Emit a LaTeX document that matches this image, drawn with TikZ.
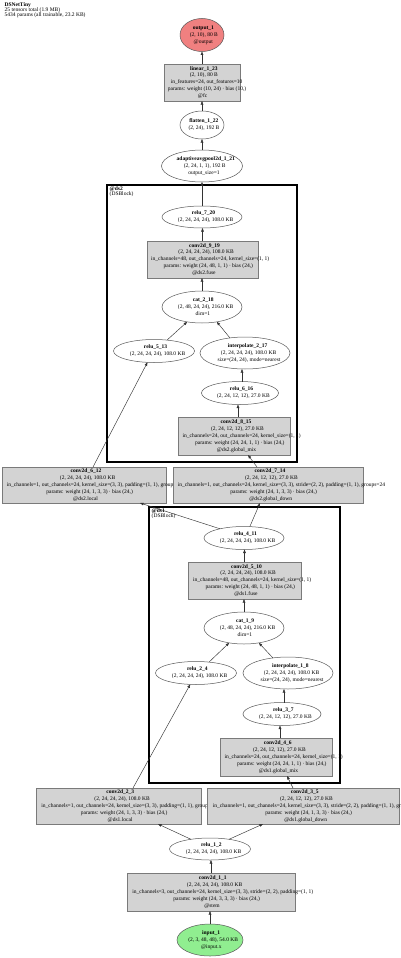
\documentclass[tikz,border=0pt]{standalone}
\usepackage{fontspec}
\setmainfont{Liberation Serif}
\usetikzlibrary{shapes.geometric,arrows.meta}
\definecolor{gvfill}{HTML}{D3D3D3}
\definecolor{gvline}{HTML}{7A7A7A}
\definecolor{gvred}{HTML}{F08080}
\definecolor{gvgreen}{HTML}{90EE90}
\newcommand\gvl[1]{\setbox0=\hbox{#1}\hbox to 0pt{\kern-0.435\wd0\box0\hss}}
\newcommand\gvfont{\fontsize{5.5}{6.9}\selectfont}
\newcommand\gvsmall{\fontsize{5.5}{5.3}\selectfont}
\tikzset{
  opbox/.style={rectangle, draw=gvline, fill=gvfill, line width=0.5pt, inner sep=0pt, outer sep=0pt, font=\gvfont, align=center},
  opell/.style={ellipse, draw=black!65, fill=white, line width=0.5pt, inner sep=0pt, outer sep=0pt, font=\gvfont, align=center},
  clusterbox/.style={draw=black, line width=1.6pt},
  edge/.style={-{Triangle[length=3.5pt,width=2.6pt]}, line width=0.45pt, draw=black!80},
  lbl/.style={anchor=north west, inner sep=0pt, font=\gvsmall, align=left}
}
\begin{document}
\begin{tikzpicture}[x=1pt,y=-1pt]
\useasboundingbox (0,0) rectangle (400,958);
\fill[white] (0,0) rectangle (400,958);

% title
\node[lbl] (title) at (4.5,2) {\textbf{DSNetTiny}\\25 tensors total (1.9 MB)\\5434 params (all trainable, 23.2 KB)};

% clusters
\draw[clusterbox] (107,185) rectangle (297,462);
\node[lbl] (ds2lbl) at (109.5,186.5) {\textbf{@ds2}\\(DSBlock)};
\draw[clusterbox] (149,507) rectangle (340,783);
\node[lbl] (ds1lbl) at (151.5,508.5) {\textbf{@ds1}\\(DSBlock)};

% nodes (top to bottom)
\node[opell, fill=gvred, minimum width=44pt, minimum height=33pt] (output) at (202,35)
  {\gvl{\bfseries output\_1}\\\gvl{(2, 10), 80 B}\\\gvl{@output}};
\node[opbox, minimum width=76pt, minimum height=37pt] (linear) at (202,82.5)
  {\gvl{\bfseries linear\_1\_23}\\\gvl{(2, 10), 80 B}\\\gvl{in\_features=24, out\_features=10}\\\gvl{params: weight (10, 24) · bias (10,)}\\\gvl{@fc}};
\node[opell, minimum width=44pt, minimum height=28pt] (flatten) at (202,125)
  {\gvl{\bfseries flatten\_1\_22}\\\gvl{(2, 24), 192 B}};
\node[opell, minimum width=81pt, minimum height=32pt] (avgpool) at (202,166)
  {\gvl{\bfseries adaptiveavgpool2d\_1\_21}\\\gvl{(2, 24, 1, 1), 192 B}\\\gvl{output\_size=1}};

\node[opell, minimum width=80pt, minimum height=22pt] (relu7) at (202,217)
  {\gvl{\bfseries relu\_7\_20}\\\gvl{(2, 24, 24, 24), 108.0 KB}};
\node[opbox, minimum width=111pt, minimum height=37pt] (conv9) at (202.5,259.5)
  {\gvl{\bfseries conv2d\_9\_19}\\\gvl{(2, 24, 24, 24), 108.0 KB}\\\gvl{in\_channels=48, out\_channels=24, kernel\_size=(1, 1)}\\\gvl{params: weight (24, 48, 1, 1) · bias (24,)}\\\gvl{@ds2.fuse}};
\node[opell, minimum width=80pt, minimum height=32pt] (cat2) at (202,307)
  {\gvl{\bfseries cat\_2\_18}\\\gvl{(2, 48, 24, 24), 216.0 KB}\\\gvl{dim=1}};
\node[opell, minimum width=81pt, minimum height=23pt] (relu5) at (154,351)
  {\gvl{\bfseries relu\_5\_13}\\\gvl{(2, 24, 24, 24), 108.0 KB}};
\node[opell, minimum width=90pt, minimum height=32pt] (interp2) at (245,353)
  {\gvl{\bfseries interpolate\_2\_17}\\\gvl{(2, 24, 24, 24), 108.0 KB}\\\gvl{size=(24, 24), mode=nearest}};
\node[opell, minimum width=77pt, minimum height=23pt] (relu6) at (240,393)
  {\gvl{\bfseries relu\_6\_16}\\\gvl{(2, 24, 12, 12), 27.0 KB}};
\node[opbox, minimum width=112pt, minimum height=38pt] (conv8) at (234,436)
  {\gvl{\bfseries conv2d\_8\_15}\\\gvl{(2, 24, 12, 12), 27.0 KB}\\\gvl{in\_channels=24, out\_channels=24, kernel\_size=(1, 1)}\\\gvl{params: weight (24, 24, 1, 1) · bias (24,)}\\\gvl{@ds2.global\_mix}};

\node[opbox, minimum width=164pt, minimum height=36pt] (conv6) at (84,485)
  {\gvl{\bfseries conv2d\_6\_12}\\\gvl{(2, 24, 24, 24), 108.0 KB}\\\gvl{in\_channels=1, out\_channels=24, kernel\_size=(3, 3), padding=(1, 1), groups=24}\\\gvl{params: weight (24, 1, 3, 3) · bias (24,)}\\\gvl{@ds2.local}};
\node[opbox, minimum width=190pt, minimum height=36pt] (conv7) at (268,485)
  {\gvl{\bfseries conv2d\_7\_14}\\\gvl{(2, 24, 12, 12), 27.0 KB}\\\gvl{in\_channels=1, out\_channels=24, kernel\_size=(3, 3), stride=(2, 2), padding=(1, 1), groups=24}\\\gvl{params: weight (24, 1, 3, 3) · bias (24,)}\\\gvl{@ds2.global\_down}};

\node[opell, minimum width=80pt, minimum height=23pt] (relu4) at (244,538)
  {\gvl{\bfseries relu\_4\_11}\\\gvl{(2, 24, 24, 24), 108.0 KB}};
\node[opbox, minimum width=113pt, minimum height=37pt] (conv5) at (244.5,580.5)
  {\gvl{\bfseries conv2d\_5\_10}\\\gvl{(2, 24, 24, 24), 108.0 KB}\\\gvl{in\_channels=48, out\_channels=24, kernel\_size=(1, 1)}\\\gvl{params: weight (24, 48, 1, 1) · bias (24,)}\\\gvl{@ds1.fuse}};
\node[opell, minimum width=80pt, minimum height=32pt] (cat1) at (244,628)
  {\gvl{\bfseries cat\_1\_9}\\\gvl{(2, 48, 24, 24), 216.0 KB}\\\gvl{dim=1}};
\node[opell, minimum width=81pt, minimum height=23pt] (relu2) at (196,673)
  {\gvl{\bfseries relu\_2\_4}\\\gvl{(2, 24, 24, 24), 108.0 KB}};
\node[opell, minimum width=90pt, minimum height=32pt] (interp1) at (288,673)
  {\gvl{\bfseries interpolate\_1\_8}\\\gvl{(2, 24, 24, 24), 108.0 KB}\\\gvl{size=(24, 24), mode=nearest}};
\node[opell, minimum width=78pt, minimum height=23pt] (relu3) at (282,714)
  {\gvl{\bfseries relu\_3\_7}\\\gvl{(2, 24, 12, 12), 27.0 KB}};
\node[opbox, minimum width=112pt, minimum height=38pt] (conv4) at (276,757)
  {\gvl{\bfseries conv2d\_4\_6}\\\gvl{(2, 24, 12, 12), 27.0 KB}\\\gvl{in\_channels=24, out\_channels=24, kernel\_size=(1, 1)}\\\gvl{params: weight (24, 24, 1, 1) · bias (24,)}\\\gvl{@ds1.global\_mix}};

\node[opbox, minimum width=165pt, minimum height=36pt] (conv2) at (118.5,806)
  {\gvl{\bfseries conv2d\_2\_3}\\\gvl{(2, 24, 24, 24), 108.0 KB}\\\gvl{in\_channels=1, out\_channels=24, kernel\_size=(3, 3), padding=(1, 1), groups=24}\\\gvl{params: weight (24, 1, 3, 3) · bias (24,)}\\\gvl{@ds1.local}};
\node[opbox, minimum width=192pt, minimum height=36pt] (conv3) at (303,806)
  {\gvl{\bfseries conv2d\_3\_5}\\\gvl{(2, 24, 12, 12), 27.0 KB}\\\gvl{in\_channels=1, out\_channels=24, kernel\_size=(3, 3), stride=(2, 2), padding=(1, 1), groups=24}\\\gvl{params: weight (24, 1, 3, 3) · bias (24,)}\\\gvl{@ds1.global\_down}};
\node[opell, minimum width=81pt, minimum height=22pt] (relu1) at (210,849)
  {\gvl{\bfseries relu\_1\_2}\\\gvl{(2, 24, 24, 24), 108.0 KB}};
\node[opbox, minimum width=168pt, minimum height=38pt] (conv1) at (211,892)
  {\gvl{\bfseries conv2d\_1\_1}\\\gvl{(2, 24, 24, 24), 108.0 KB}\\\gvl{in\_channels=3, out\_channels=24, kernel\_size=(3, 3), stride=(2, 2), padding=(1, 1)}\\\gvl{params: weight (24, 3, 3, 3) · bias (24,)}\\\gvl{@stem}};
\node[opell, fill=gvgreen, minimum width=66pt, minimum height=32pt] (input) at (210,940)
  {\gvl{\bfseries input\_1}\\\gvl{(2, 3, 48, 48), 54.0 KB}\\\gvl{@input.x}};

% edges
\draw[edge] (input.north) -- (input.north |- conv1.south);
\draw[edge] (conv1.north) -- (conv1.north |- relu1.south);
\draw[edge] (relu1.153) -- ([xshift=39.5pt]conv2.south);
\draw[edge] (relu1.27) -- ([xshift=-40pt]conv3.south);
\draw[edge] ([xshift=14.5pt]conv2.north) -- (relu2.243);
\draw[edge] ([xshift=-10pt]conv3.north) -- ([xshift=11pt]conv4.south);
\draw[edge] ([xshift=4pt]conv4.north) -- ([xshift=-2pt]relu3.south);
\draw[edge] ([xshift=2pt]relu3.north) -- ([xshift=-4pt]interp1.south);
\draw[edge] (relu2.40) -- (cat1.225);
\draw[edge] (interp1.135) -- (cat1.315);
\draw[edge] (cat1.north) -- (cat1.north |- conv5.south);
\draw[edge] (conv5.north) -- (conv5.north |- relu4.south);
\draw[edge] (relu4.159) -- ([xshift=56pt]conv6.south);
\draw[edge] (relu4.63) -- ([xshift=-8pt]conv7.south);
\draw[edge] ([xshift=9pt]conv6.north) -- (relu5.240);
\draw[edge] ([xshift=-11pt]conv7.north) -- ([xshift=14pt]conv8.south);
\draw[edge] ([xshift=4pt]conv8.north) -- ([xshift=-2pt]relu6.south);
\draw[edge] ([xshift=2pt]relu6.north) -- ([xshift=-3pt]interp2.south);
\draw[edge] (relu5.40) -- (cat2.225);
\draw[edge] (interp2.135) -- (cat2.315);
\draw[edge] (cat2.north) -- (cat2.north |- conv9.south);
\draw[edge] (conv9.north) -- (conv9.north |- relu7.south);
\draw[edge] (relu7.north) -- (avgpool.south);
\draw[edge] (avgpool.north) -- (flatten.south);
\draw[edge] (flatten.north) -- (linear.south);
\draw[edge] (linear.north) -- (output.south);
\end{tikzpicture}
\end{document}
